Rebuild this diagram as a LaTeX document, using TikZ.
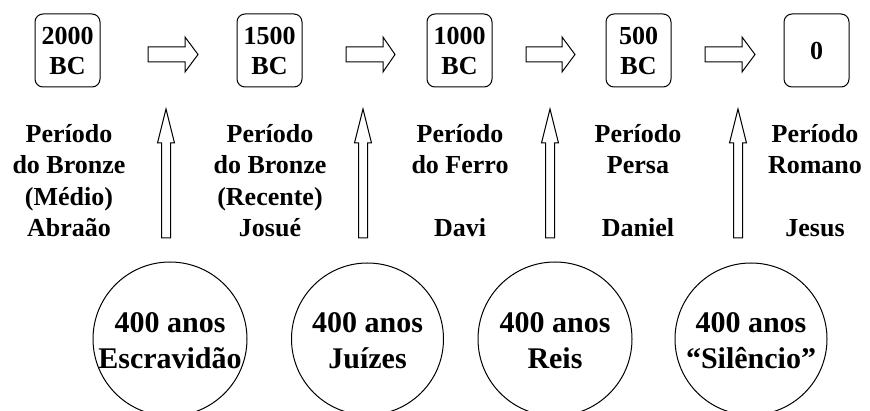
\documentclass[tikz,border=0pt]{standalone}
\usepackage{fontspec}
\setmainfont{Liberation Serif}
\usetikzlibrary{positioning}
\tikzset{
  yearbox/.style={draw,line width=1pt,rounded corners=8pt,minimum width=65pt,
    minimum height=73pt,inner sep=0pt,align=center,
    font=\fontsize{26}{30}\selectfont\bfseries},
  period/.style={anchor=north,inner sep=0pt,align=center,
    font=\fontsize{26}{31.5}\selectfont\bfseries},
  spanlabel/.style={inner sep=0pt,align=center,
    font=\fontsize{30}{36}\selectfont\bfseries},
  blockarrow/.style={draw,line width=1pt,fill=white}
}

\begin{document}
\begin{tikzpicture}[x=1pt,y=-1pt]
% Page, one unit per pixel, y grows downward
\useasboundingbox (0,0) rectangle (870,411);
\clip (0,0) rectangle (870,411);

% Dates
\node[yearbox] (y2000) at (67.5,50.5) {2000\\BC};
\node[yearbox] (y1500) at (269.5,50.5) {1500\\BC};
\node[yearbox] (y1000) at (459.5,50.5) {1000\\BC};
\node[yearbox] (y500) at (638.5,50.5) {500\\BC};
\node[yearbox] (y0) at (816.5,50.5) {0};

% Arrows between the dates
\draw[blockarrow] (148,47) -- ++(37,0) -- ++(0,-10) -- ++(13,17.5) -- ++(-13,17.5) -- ++(0,-10) -- ++(-37,0) -- cycle;
\draw[blockarrow] (346,47) -- ++(37,0) -- ++(0,-10) -- ++(12,17.5) -- ++(-12,17.5) -- ++(0,-10) -- ++(-37,0) -- cycle;
\draw[blockarrow] (526,47) -- ++(36,0) -- ++(0,-10) -- ++(13,17.5) -- ++(-13,17.5) -- ++(0,-10) -- ++(-36,0) -- cycle;
\draw[blockarrow] (705,47) -- ++(37,0) -- ++(0,-10) -- ++(13,17.5) -- ++(-13,17.5) -- ++(0,-10) -- ++(-37,0) -- cycle;

% Periods and people
\node[period] (bronzeM) at (69,124) {Período\\do Bronze\\(Médio)\\Abraão};
\node[period] (bronzeR) at (270,124) {Período\\do Bronze\\(Recente)\\Josué};
\node[period] (ferro) at (460,124) {Período\\do Ferro\\~\\Davi};
\node[period] (persa) at (638,124) {Período\\Persa\\~\\Daniel};
\node[period] (romano) at (815,124) {Período\\Romano\\~\\Jesus};

% Arrows up from the spans
\draw[blockarrow] (166,238) ++(-4.5,0) -- ++(0,-95) -- ++(-4,0) -- ++(8.5,-34) -- ++(8.5,34) -- ++(-4,0) -- ++(0,95) -- cycle;
\draw[blockarrow] (363,238) ++(-4.5,0) -- ++(0,-95) -- ++(-4,0) -- ++(8.5,-34) -- ++(8.5,34) -- ++(-4,0) -- ++(0,95) -- cycle;
\draw[blockarrow] (550,238) ++(-4.5,0) -- ++(0,-95) -- ++(-4,0) -- ++(8.5,-34) -- ++(8.5,34) -- ++(-4,0) -- ++(0,95) -- cycle;
\draw[blockarrow] (738,238) ++(-4.5,0) -- ++(0,-95) -- ++(-4,0) -- ++(8.5,-34) -- ++(8.5,34) -- ++(-4,0) -- ++(0,95) -- cycle;

% Spans of 400 years
\draw[line width=1pt] (170,339) circle[radius=77];
\draw[line width=1pt] (367.5,339) circle[radius=76];
\draw[line width=1pt] (555,339) circle[radius=77];
\draw[line width=1pt] (751,339) circle[radius=76];
\node[spanlabel] (escravidao) at (170,341) {400 anos\\Escravidão};
\node[spanlabel] (juizes) at (367.5,341) {400 anos\\Juízes};
\node[spanlabel] (reis) at (555,341) {400 anos\\Reis};
\node[spanlabel] (silencio) at (751,341) {400 anos\\``Silêncio''};
\end{tikzpicture}
\end{document}
